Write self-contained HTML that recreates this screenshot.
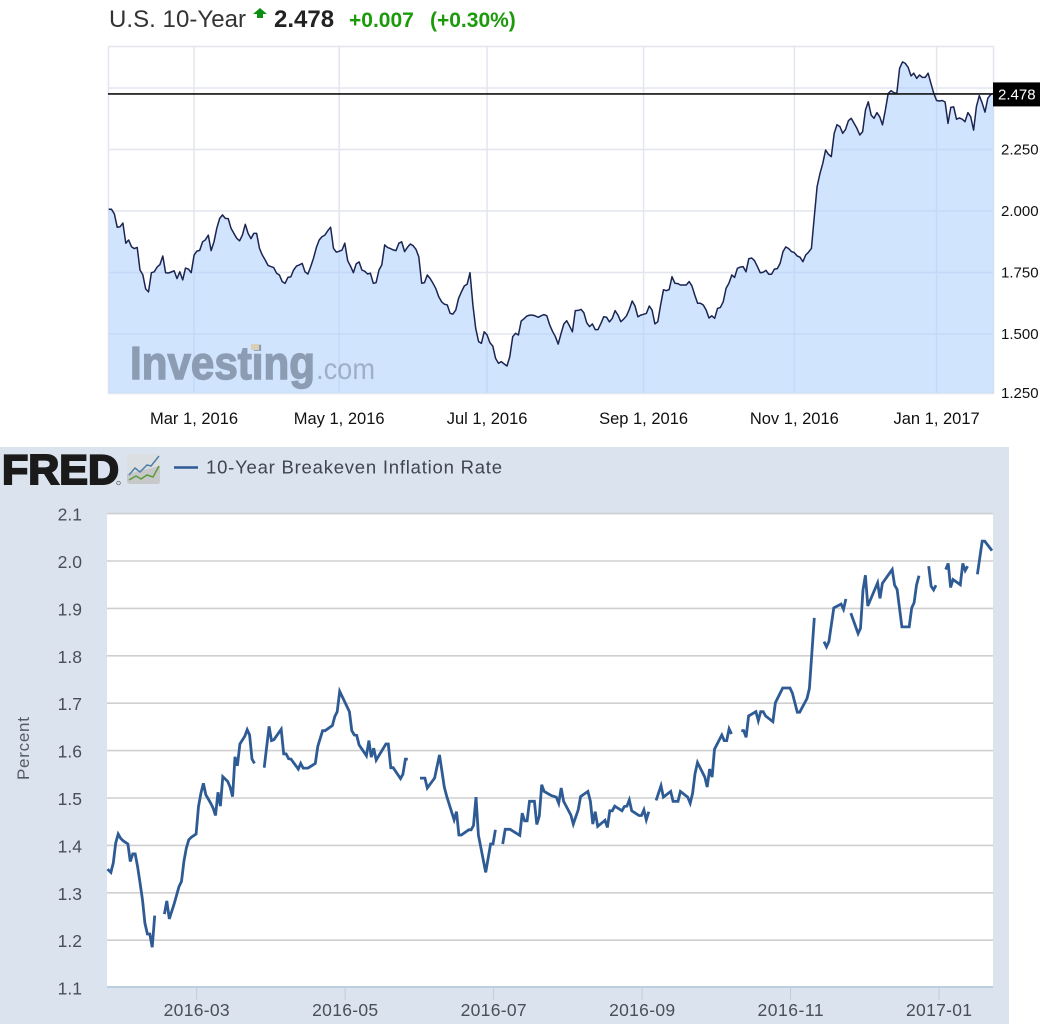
<!DOCTYPE html>
<html lang="en">
<head>
<meta charset="utf-8">
<title>U.S. 10-Year Yield and 10-Year Breakeven Inflation Rate</title>
<style>
  html, body { margin: 0; padding: 0; background: #fff; }
  body { width: 1047px; height: 1024px; overflow: hidden; font-family: "Liberation Sans", sans-serif; }
  svg { display: block; }
</style>
</head>
<body>
<svg id="stage" xmlns="http://www.w3.org/2000/svg" width="1047" height="1024" viewBox="0 0 1047 1024" font-family="'Liberation Sans', sans-serif">
  <rect x="0" y="0" width="1047" height="1024" fill="#ffffff"/>

  <g>
    <text x="109" y="27" font-size="24" fill="#333333" textLength="137">U.S. 10-Year</text>
    <path d="M260 8 L267 14 L263 14 L263 18 L257 18 L257 14 L253 14 Z" fill="#0c8f10"/>
    <text x="274" y="27" font-size="24" font-weight="bold" fill="#222222">2.478</text>
    <text x="349" y="27" font-size="21" font-weight="bold" fill="#1b9a0a">+0.007</text>
    <text x="430" y="27" font-size="21" font-weight="bold" fill="#1b9a0a">(+0.30%)</text>
  </g>

  <g id="topGrid"></g>
  <path id="topArea" fill="rgba(170,205,253,0.55)"/>
  <g>
    <text x="130" y="379" font-size="46" font-weight="bold" fill="#8c9db3" stroke="#8c9db3" stroke-width="1.4" textLength="185" lengthAdjust="spacingAndGlyphs">Investing</text>
    <text x="316" y="379" font-size="30" fill="#9fb0c6" textLength="59" lengthAdjust="spacingAndGlyphs">.com</text>
    <rect x="251" y="344" width="8" height="6" fill="#d8cfb4"/>
  </g>
  <path id="topLine" fill="none" stroke="#1c2452" stroke-width="1.5" stroke-linejoin="round"/>
  <g id="topLabels"></g>
  <g id="topLast"></g>

  <rect x="0" y="447" width="1009" height="577" fill="#dbe3ee"/>
  <g>
    <text x="2" y="484" font-size="42" font-weight="bold" fill="#1a1a1a" stroke="#1a1a1a" stroke-width="2" textLength="117" lengthAdjust="spacingAndGlyphs">FRED</text>
    <circle cx="118.5" cy="483" r="1.8" fill="none" stroke="#555" stroke-width="0.7"/>
    <rect x="127" y="454" width="33" height="30" rx="3" fill="#dcdfe2"/>
    <path d="M127 474 L160 466 L160 481 Q160 484 157 484 L130 484 Q127 484 127 481 Z" fill="#c6c8ca"/>
    <polyline points="129,475 135,468 140,472 147,465 151,466 159,456" fill="none" stroke="#4f7ea8" stroke-width="1.5"/>
    <polyline points="129,480 136,476 141,479 147,475 153,477 159,466" fill="none" stroke="#5d9a38" stroke-width="1.5"/>
  </g>
  <line x1="174" y1="467.5" x2="198" y2="467.5" stroke="#2f5b95" stroke-width="2.5"/>
  <text x="206" y="473.5" font-size="18.5" fill="#3f4650" textLength="296">10-Year Breakeven Inflation Rate</text>
  <rect x="107" y="513" width="886" height="474" fill="#ffffff"/>
  <text transform="translate(29 780) rotate(-90)" font-size="17" fill="#555b63" textLength="63">Percent</text>
  <g id="fredAxes"></g>
  <path id="fredLine" fill="none" stroke="#2f5b95" stroke-width="2.8" stroke-linejoin="miter"/>
</svg>

<script>
/* ---------- U.S. 10-Year yield (one value per sampled session) ---------- */
var yields = [
2.007,2.007,1.988,1.934,1.936,1.951,1.869,1.882,1.855,1.847,1.852,1.760,1.741,1.683,1.671,1.749,1.753,1.772,1.782,1.817,
1.749,1.748,1.752,1.757,1.725,1.753,1.720,1.768,1.764,1.749,1.821,1.837,1.840,1.875,1.883,1.902,1.839,1.875,1.930,1.970,
1.984,1.970,1.969,1.930,1.909,1.889,1.879,1.902,1.946,1.909,1.888,1.909,1.909,1.848,1.821,1.801,1.779,1.774,1.770,1.747,
1.740,1.713,1.706,1.730,1.732,1.760,1.776,1.781,1.787,1.753,1.744,1.774,1.808,1.852,1.882,1.896,1.902,1.920,1.934,1.848,
1.833,1.836,1.841,1.869,1.798,1.776,1.749,1.785,1.793,1.760,1.755,1.744,1.747,1.706,1.709,1.760,1.781,1.862,1.852,1.847,
1.842,1.839,1.869,1.875,1.835,1.852,1.866,1.859,1.844,1.814,1.706,1.709,1.740,1.725,1.706,1.684,1.652,1.631,1.621,1.618,
1.584,1.581,1.598,1.645,1.672,1.695,1.703,1.749,1.618,1.523,1.469,1.462,1.509,1.496,1.465,1.451,1.401,1.381,
1.388,1.378,1.370,1.408,1.489,1.503,1.496,1.553,1.562,1.573,1.577,1.577,1.573,1.568,1.574,1.579,1.574,1.537,1.511,1.489,
1.459,1.503,1.541,1.554,1.532,1.509,1.595,1.596,1.600,1.587,1.546,1.530,1.541,1.518,1.518,1.543,1.570,1.568,1.549,1.564,
1.595,1.577,1.550,1.560,1.574,1.600,1.634,1.614,1.570,1.577,1.580,1.584,1.614,1.597,1.541,1.550,1.618,1.680,1.676,1.681,
1.733,1.706,1.705,1.699,1.699,1.699,1.713,1.696,1.658,1.625,1.625,1.618,1.597,1.565,1.574,1.564,1.604,1.608,1.631,
1.686,1.706,1.740,1.730,1.767,1.772,1.774,1.753,1.806,1.809,1.798,1.774,1.749,1.751,1.759,1.743,1.743,1.764,1.766,1.787,
1.835,1.854,1.847,1.835,1.831,1.817,1.812,1.794,1.821,1.833,1.848,
1.977,2.099,2.153,2.194,2.248,2.230,2.221,2.316,2.351,2.343,2.316,2.332,2.367,2.377,2.356,2.336,2.309,2.322,2.411,2.444,
2.390,2.377,2.400,2.383,2.350,2.411,2.478,2.489,2.481,2.478,2.580,2.606,2.600,2.584,2.549,2.560,2.539,2.553,2.543,2.543,
2.560,2.519,2.478,2.449,2.447,2.449,2.443,2.356,2.421,2.423,2.373,2.378,2.373,2.363,2.400,2.383,2.329,2.424,2.469,
2.440,2.402,2.458,2.474,2.478
];
var yieldTicks = [2.5, 2.25, 2.0, 1.75, 1.5, 1.25];
var yieldTickLabels = ["", "2.250", "2.000", "1.750", "1.500", "1.250"];
var yieldDateSessions = [30, 81, 133, 188, 241, 291];
var yieldDateLabels = ["Mar 1, 2016", "May 1, 2016", "Jul 1, 2016", "Sep 1, 2016", "Nov 1, 2016", "Jan 1, 2017"];
var lastYield = 2.478;
var lastYieldLabel = "2.478";

/* ---------- 10-Year Breakeven Inflation Rate (day since start, percent; null = missing) ---------- */
var breakevenDays = [
0,2,3,4,5,6,7,9,10,11,12,13,14,15,16,17,18,19,20,22,
24,25,26,28,30,31,32,33,34,35,37,38,39,40,41,43,44,45,46,47,48,50,51,52,53,54,55,57,58,59,60,61,63,
65,67,68,69,72,73,74,75,76,79,80,81,83,86,87,89,90,93,94,95,96,100,101,102,103,104,107,108,109,110,111,115,116,117,118,121,122,123,124,126,
129,131,132,135,137,139,140,143,144,145,146,149,150,151,152,153,156,158,159,160,162,
163,164,166,170,171,172,173,174,176,177,178,179,180,183,185,186,187,188,191,192,194,195,198,199,200,201,202,205,206,207,208,209,212,213,214,215,216,219,220,221,222,223,225,
226,228,229,232,233,235,236,239,240,241,242,243,246,247,248,249,250,253,254,255,256,257,259,
261,262,263,264,267,268,269,270,271,274,275,278,281,282,284,285,288,289,291,293,
295,296,297,299,302,303,304,305,
306,309,310,311,312,313,317,318,319,323,324,325,327,330,331,332,333,334,336,
338,339,340,341,343,
345,346,347,348,351,352,353,354,356,
358,360,361,364
];
var breakevenValues = [
1.350,1.343,1.363,1.405,1.424,1.415,1.410,1.403,1.366,1.382,1.382,1.355,1.320,1.285,1.236,1.213,1.213,1.185,1.252,null,
1.255,1.283,1.245,1.277,1.313,1.324,1.366,1.394,1.412,1.417,1.424,1.482,1.510,1.531,1.507,1.489,1.479,1.463,1.512,1.483,1.545,1.535,1.523,1.503,1.587,1.568,1.614,1.630,1.644,1.633,1.582,1.573,null,
1.564,1.651,1.621,1.623,1.645,1.593,1.593,1.583,1.582,1.561,1.573,1.563,1.563,1.573,1.609,1.642,1.642,1.653,1.672,1.682,1.725,1.682,1.642,1.633,1.632,1.612,1.589,1.621,1.586,1.605,1.580,1.614,1.614,1.564,1.564,1.541,1.550,1.582,1.582,null,
1.542,1.542,1.521,1.542,1.591,1.523,1.503,1.454,1.471,1.422,1.422,1.433,1.433,1.442,1.502,1.422,1.343,1.403,1.403,1.433,null,
1.403,1.434,1.434,1.421,1.468,1.452,1.452,1.493,1.493,1.444,1.462,1.528,1.514,1.505,1.502,1.489,1.521,1.493,1.464,1.445,1.475,1.503,1.514,1.493,1.445,1.471,1.440,1.453,1.438,1.473,1.473,1.483,1.473,1.482,1.483,1.496,1.473,1.463,1.463,1.475,1.454,1.471,null,
1.495,1.526,1.502,1.514,1.493,1.493,1.514,1.502,1.489,1.510,1.551,1.575,1.544,1.523,1.561,1.544,1.603,1.633,1.621,1.621,1.646,1.635,null,
1.642,1.642,1.628,1.673,1.682,1.663,1.682,1.682,1.673,1.661,1.701,1.732,1.732,1.721,1.681,1.681,1.710,1.731,1.880,null,
1.830,1.819,1.830,1.901,1.909,1.898,1.920,null,
1.890,1.847,1.858,1.939,1.970,1.905,1.954,1.921,1.953,1.982,1.949,1.940,1.861,1.861,1.901,1.912,1.949,1.969,null,
1.989,1.947,1.939,1.949,null,
1.982,1.995,1.944,1.961,1.950,1.995,1.980,1.989,null,
1.972,2.042,2.042,2.022
];
var percentTicks = [2.1, 2.0, 1.9, 1.8, 1.7, 1.6, 1.5, 1.4, 1.3, 1.2, 1.1];
var percentTickLabels = ["2.1", "2.0", "1.9", "1.8", "1.7", "1.6", "1.5", "1.4", "1.3", "1.2", "1.1"];
var monthTickDays = [37, 98, 159, 220, 281, 342];
var monthTickLabels = ["2016-03", "2016-05", "2016-07", "2016-09", "2016-11", "2017-01"];

/* ---------- axis functions ---------- */
var NS = "http://www.w3.org/2000/svg";
function topX(i) { return 108.7 + i * (993.5 - 108.7) / (yields.length - 1); }
function topY(v) { return 211 - (v - 2) * 246; }
function fredX(d) { return 106 + d * 2.434; }
function fredY(v) { return 561 + (2 - v) * 474; }

function make(tag, parent, attrs, text) {
  var el = document.createElementNS(NS, tag);
  for (var k in attrs) { el.setAttribute(k, attrs[k]); }
  if (text !== undefined) { el.textContent = text; }
  parent.appendChild(el);
  return el;
}

/* ---------- top chart ---------- */
var topGrid = document.getElementById("topGrid");
var topLabels = document.getElementById("topLabels");
var gridColor = "#e3e6ef";
var frame = make("rect", topGrid, { x: 108.5, y: 46.5, width: 885, height: 347, fill: "#ffffff", stroke: gridColor, "stroke-width": 1.5 });



yieldTicks.forEach(function (t, i) {
  var y = topY(t);
  if (t > 1.3) {
    var line = make("line", topGrid, { x1: 108, x2: 993, y1: y, y2: y, stroke: gridColor, "stroke-width": 1.5 });
    
    
  }
  if (yieldTickLabels[i]) {
    var label = make("text", topLabels, { x: 1001, y: Math.min(y + 5, 398), "font-size": 15, fill: "#111111" }, yieldTickLabels[i]);
    
    
  }
});
yieldDateSessions.forEach(function (s, i) {
  var x = topX(s);
  var line = make("line", topGrid, { x1: x, x2: x, y1: 46, y2: 393, stroke: gridColor, "stroke-width": 1.5 });
  
  
  var label = make("text", topLabels, { x: x, y: 424, "font-size": 16.5, fill: "#111111", "text-anchor": "middle" }, yieldDateLabels[i]);
  
  
});

var topPath = yields.map(function (v, i) {
  return (i ? "L" : "M") + topX(i).toFixed(1) + " " + topY(v).toFixed(1);
}).join(" ");
document.getElementById("topLine").setAttribute("d", topPath);
document.getElementById("topArea").setAttribute("d",
  topPath + " L" + topX(yields.length - 1).toFixed(1) + " 393 L" + topX(0).toFixed(1) + " 393 Z");

var topLast = document.getElementById("topLast");
var lastY = topY(lastYield);
var lastLine = make("line", topLast, { x1: 108, x2: 993, y1: lastY + 0.5, y2: lastY + 0.5, stroke: "#111111", "stroke-width": 1.6 });


var lastBox = make("rect", topLast, { x: 993, y: lastY - 11, width: 47, height: 24, fill: "#000000" });


var lastText = make("text", topLast, { x: 998, y: lastY + 6, "font-size": 15, fill: "#ffffff" }, lastYieldLabel);



/* ---------- FRED chart ---------- */
var fredAxes = document.getElementById("fredAxes");
percentTicks.forEach(function (t, i) {
  var y = fredY(t);
  if (t > 1.15) {
    var line = make("line", fredAxes, { x1: 107, x2: 993, y1: y, y2: y, stroke: "#cfcfcf", "stroke-width": 1.6 });
    
    
  }
  var label = make("text", fredAxes, { x: 82, y: y + 7, "font-size": 17.5, fill: "#4a4f57", "text-anchor": "end" }, percentTickLabels[i]);
  
  
});
var xAxis = make("line", fredAxes, { x1: 107, x2: 993, y1: 987, y2: 987, stroke: "#bccde0", "stroke-width": 2 });


monthTickDays.forEach(function (d, i) {
  var x = fredX(d) + 0.6;
  var tick = make("line", fredAxes, { x1: x, x2: x, y1: 987, y2: 1000, stroke: "#bccde0", "stroke-width": 1 });
  
  
  var label = make("text", fredAxes, { x: x - 33, y: 1016, "font-size": 17.5, fill: "#4a4f57", textLength: 66 }, monthTickLabels[i]);
  
  
});

var fredD = "";
var penUp = true;
breakevenValues.forEach(function (v, i) {
  if (v === null) { penUp = true; return; }
  fredD += (penUp ? "M" : "L") + Math.max(107.5, fredX(breakevenDays[i])).toFixed(1) + " " + fredY(v).toFixed(1) + " ";
  penUp = false;
});
document.getElementById("fredLine").setAttribute("d", fredD);
</script>
</body>
</html>
